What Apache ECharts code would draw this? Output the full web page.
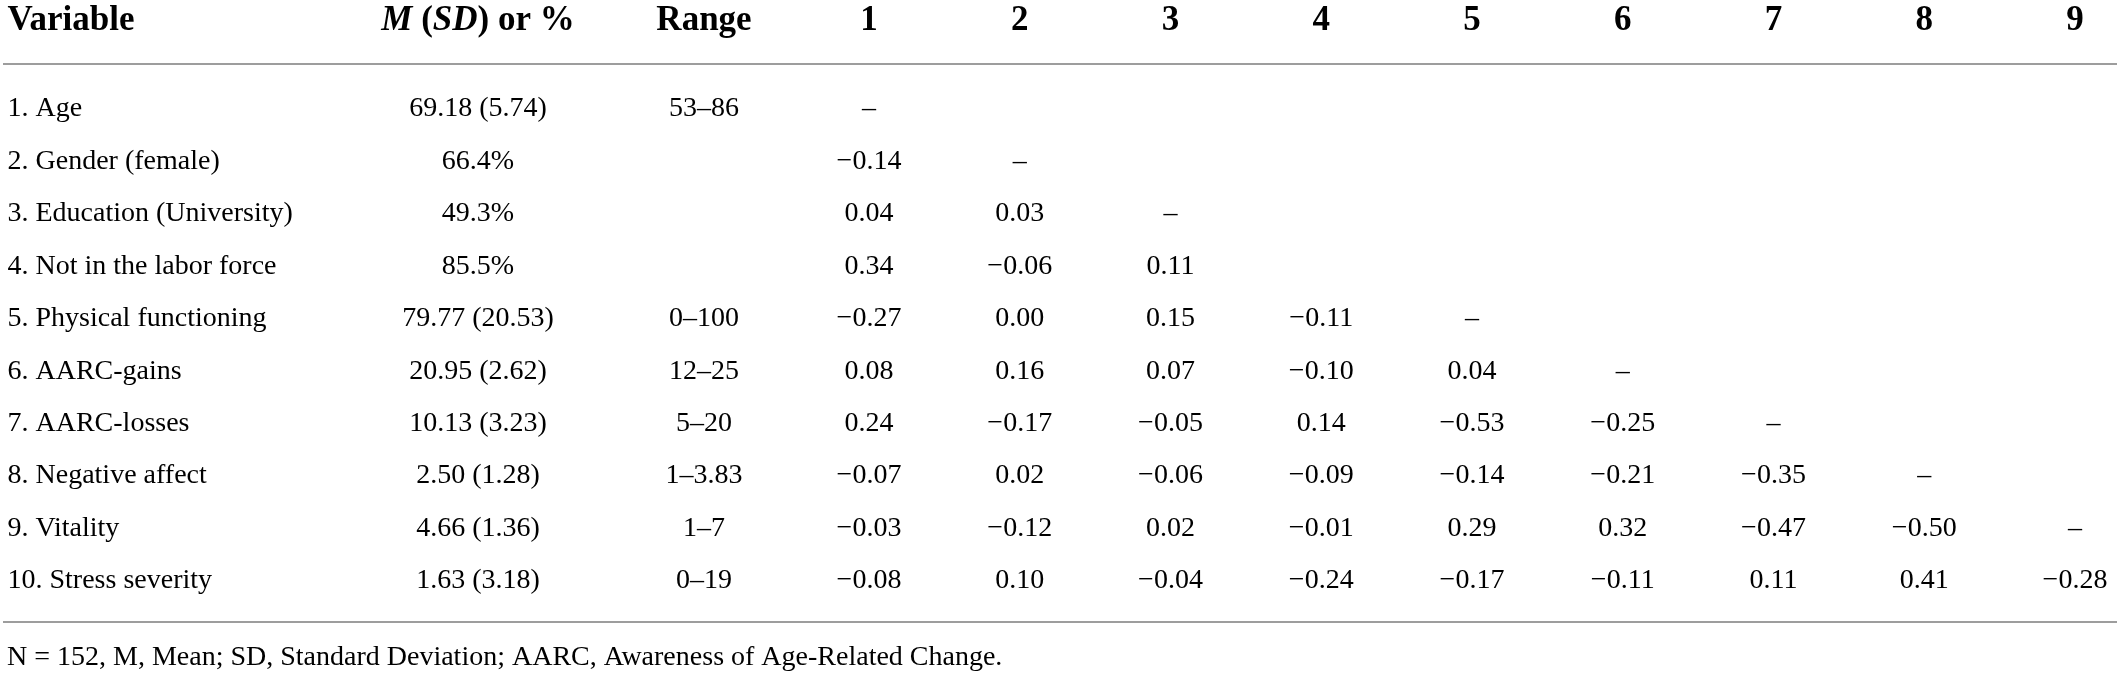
<!DOCTYPE html>
<html>
<head>
<meta charset="utf-8">
<script src="https://cdn.jsdelivr.net/npm/echarts@6.0.0/dist/echarts.min.js"></script>
<style>
  html, body { margin: 0; padding: 0; background: #fff; }
  #chart { width: 2117px; height: 675px; }
</style>
</head>
<body>
<div id="chart"></div>
<script>
// table data
const variables = ['1. Age', '2. Gender (female)', '3. Education (University)', '4. Not in the labor force',
    '5. Physical functioning', '6. AARC-gains', '7. AARC-losses', '8. Negative affect', '9. Vitality', '10. Stress severity']
const means = [69.18, 66.4, 49.3, 85.5, 79.77, 20.95, 10.13, 2.50, 4.66, 1.63]
const sds = [5.74, null, null, null, 20.53, 2.62, 3.23, 1.28, 1.36, 3.18]
const ranges = ['53–86', '', '', '', '0–100', '12–25', '5–20', '1–3.83', '1–7', '0–19']
const matrixCols = ['1', '2', '3', '4', '5', '6', '7', '8', '9']
// lower triangle, row i holds correlations with variables 1..i-1
const correlations = [
    [],
    [-0.14],
    [0.04, 0.03],
    [0.34, -0.06, 0.11],
    [-0.27, 0.00, 0.15, -0.11],
    [0.08, 0.16, 0.07, -0.10, 0.04],
    [0.24, -0.17, -0.05, 0.14, -0.53, -0.25],
    [-0.07, 0.02, -0.06, -0.09, -0.14, -0.21, -0.35],
    [-0.03, -0.12, 0.02, -0.01, 0.29, 0.32, -0.47, -0.50],
    [-0.08, 0.10, -0.04, -0.24, -0.17, -0.11, 0.11, 0.41, -0.28],
]
// rows that show a dash on the diagonal (row 4 has none)
const dashRows = [0, 1, 2, 4, 5, 6, 7, 8]
const footnote = 'N = 152, M, Mean; SD, Standard Deviation; AARC, Awareness of Age-Related Change.'

const FONT = '"Liberation Serif", "DejaVu Serif", serif'
const TOP = 109
const BOTTOM = 94

const fmtR = (v) => (v < 0 ? '\u2212' : '') + Math.abs(v).toFixed(2)
const fmtM = (m, s) => s == null ? m.toFixed(1) + '%' : m.toFixed(2) + ' (' + s.toFixed(2) + ')'

const headLabel = {
    fontFamily: FONT,
    fontSize: 35,
    fontWeight: 'bold',
    color: '#000',
    verticalAlign: 'middle',
    margin: TOP - 21,
}

const makeX = (gridIndex, data, extra) => Object.assign({
    gridIndex,
    type: 'category',
    position: 'top',
    data,
    boundaryGap: true,
    axisLine: { show: false },
    axisTick: { show: false },
    splitLine: { show: false },
    axisLabel: Object.assign({}, headLabel, { interval: 0 }),
}, extra || {})

const makeY = (gridIndex) => ({
    gridIndex,
    type: 'category',
    data: variables,
    inverse: true,
    boundaryGap: false,
    show: false,
})

const cellLabel = (align) => ({
    show: true,
    position: 'inside',
    align: align || 'center',
    verticalAlign: 'middle',
    fontFamily: FONT,
    fontSize: 28,
    color: '#000',
    opacity: 1,
    formatter: (p) => p.value[2],
})

const textSeries = (idx, data, align) => ({
    type: 'scatter',
    xAxisIndex: idx,
    yAxisIndex: idx,
    symbolSize: 0,
    itemStyle: { color: 'rgba(0,0,0,0)' },
    silent: true,
    label: cellLabel(align),
    emphasis: { disabled: true },
    data,
})

const varData = variables.map((v, i) => [0, i, v])
const msdData = means.map((m, i) => [0, i, fmtM(m, sds[i])])
const rangeData = ranges.map((r, i) => [0, i, r]).filter(d => d[2] !== '')
const corrData = []
correlations.forEach((row, i) => {
    row.forEach((v, j) => corrData.push([j, i, fmtR(v)]))
    if (dashRows.includes(i)) corrData.push([i, i, '–'])
})

const myChart = echarts.init(document.getElementById('chart'), null, { renderer: 'canvas' })
const option = {
    backgroundColor: '#fff',
    animation: false,
    grid: [
        { left: 7, width: 1, top: TOP, bottom: BOTTOM },
        { left: 428, width: 100, top: TOP, bottom: BOTTOM },
        { left: 654, width: 100, top: TOP, bottom: BOTTOM },
        { left: 869, right: 42, top: TOP, bottom: BOTTOM },
    ],
    xAxis: [
        makeX(0, ['Variable'], { axisLabel: Object.assign({}, headLabel, { align: 'left' }) }),
        makeX(1, ['M (SD) or %'], {
            axisLabel: Object.assign({}, headLabel, {
                formatter: () => '{i|M} ({i|SD}) or %',
                rich: {
                    i: { fontFamily: FONT, fontSize: 35, fontWeight: 'bold', fontStyle: 'italic', color: '#000' },
                },
            }),
        }),
        makeX(2, ['Range']),
        makeX(3, matrixCols, { boundaryGap: false }),
    ],
    yAxis: [makeY(0), makeY(1), makeY(2), makeY(3)],
    series: [
        textSeries(0, varData, 'left'),
        textSeries(1, msdData),
        textSeries(2, rangeData),
        textSeries(3, corrData),
    ],
    graphic: [
        // table rules
        { type: 'line', shape: { x1: 3, y1: 64, x2: 2117, y2: 64 }, style: { stroke: '#9d9d9d', lineWidth: 2 }, silent: true },
        { type: 'line', shape: { x1: 3, y1: 622, x2: 2117, y2: 622 }, style: { stroke: '#9d9d9d', lineWidth: 2 }, silent: true },
        {
            type: 'text', left: 7, top: 644, silent: true,
            style: { text: footnote, font: '28px ' + FONT, fill: '#000' },
        },
    ],
}

option && myChart.setOption(option)
</script>
</body>
</html>
